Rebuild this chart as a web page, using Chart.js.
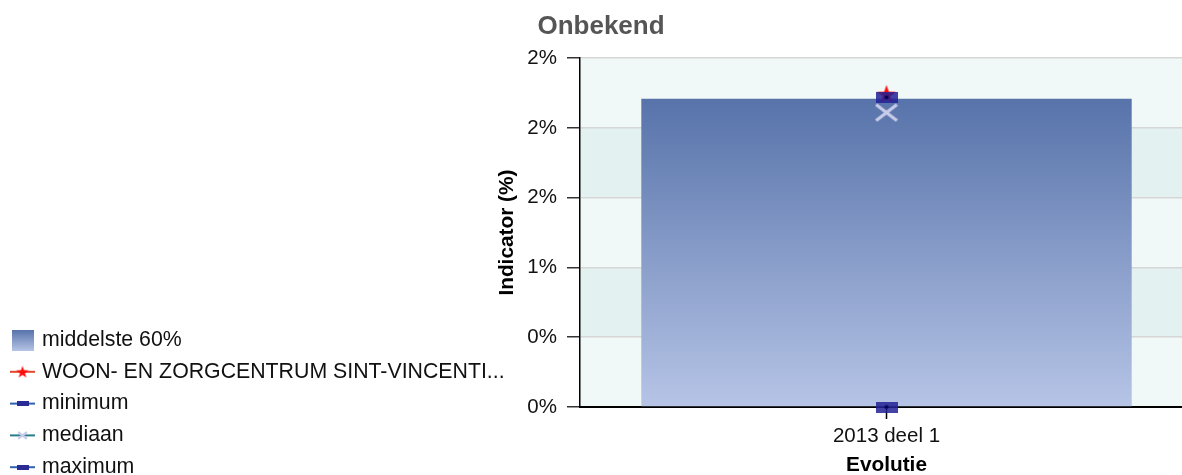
<!DOCTYPE html>
<html><head><meta charset="utf-8">
<script src="https://cdn.jsdelivr.net/npm/chart.js@4.4.1/dist/chart.umd.min.js"></script>
<style>
html,body{margin:0;padding:0;overflow:hidden;background:#fff;width:1182px;height:475px}
canvas{display:block}
</style></head>
<body><canvas id="c" width="1202" height="480"></canvas>
<script>
// ---- data ----
const categories = ['2013 deel 1'];
const middle60Low = [0];
const middle60High = [2.21];
const instelling = [2.24];
const minimum = [0];
const mediaan = [2.11];
const maximum = [2.22];
const yTickLabels = ['0%', '0%', '1%', '2%', '2%', '2%'];
const seriesLabels = ['middelste 60%', 'WOON- EN ZORGCENTRUM SINT-VINCENTI...', 'minimum', 'mediaan', 'maximum'];

const FONT = '"Liberation Sans", Arial, Helvetica, sans-serif';
Chart.defaults.font.family = FONT;

// ---- marker images ----
function makeStar(size, outer, inner, color) {
  const c = document.createElement('canvas'); c.width = c.height = size;
  const x = c.getContext('2d'); const cx = size / 2, cy = size / 2 + 0.5;
  x.beginPath();
  for (let i = 0; i < 10; i++) {
    const a = -Math.PI / 2 + i * Math.PI / 5; const r = i % 2 ? inner : outer;
    const px = cx + r * Math.cos(a), py = cy + r * Math.sin(a);
    i ? x.lineTo(px, py) : x.moveTo(px, py);
  }
  x.closePath(); x.fillStyle = color; x.fill();
  return c;
}
function makeRect(w, h, color, dotR) {
  const c = document.createElement('canvas'); c.width = w; c.height = h;
  const x = c.getContext('2d'); x.fillStyle = color; x.fillRect(0, 0, w, h);
  if (dotR) { x.beginPath(); x.arc(w / 2, h / 2, dotR, 0, Math.PI * 2); x.fillStyle = 'rgba(0,0,80,0.9)'; x.fill(); }
  return c;
}
function makeX(w, h, color, lw) {
  const c = document.createElement('canvas'); c.width = w; c.height = h;
  const x = c.getContext('2d'); x.strokeStyle = color; x.lineWidth = lw; x.lineCap = 'butt';
  const p = lw / 2;
  x.beginPath(); x.moveTo(p, p); x.lineTo(w - p, h - p); x.moveTo(w - p, p); x.lineTo(p, h - p); x.stroke();
  return c;
}
const starImg = makeStar(22, 10, 4, '#ff0a0a');
const boxImg = makeRect(22, 11, 'rgba(34,34,150,0.85)', 2);
const xImg = makeX(24, 19, '#c8cce8', 3.2);
const starLeg = makeStar(14, 6.5, 2.6, '#ff0a0a');
const boxLeg = makeRect(12, 5, '#2b2b96', 0);
const xLeg = makeX(11, 9, '#c8cce8', 2.2);

function barGradient(context) {
  const chart = context.chart; const a = chart.chartArea;
  if (!a) return '#7b90c4';
  const y = chart.scales.y;
  const top = y.getPixelForValue(Math.max(...middle60High));
  const bot = y.getPixelForValue(Math.min(...middle60Low));
  const g = chart.ctx.createLinearGradient(0, top, 0, bot);
  g.addColorStop(0, '#5773aa'); g.addColorStop(1, '#b6c4e6');
  return g;
}

const bandsPlugin = {
  id: 'bands',
  beforeDraw(chart) {
    const { ctx, chartArea: a, scales: { y } } = chart;
    ctx.save(); ctx.fillStyle = '#fff'; ctx.fillRect(0, 0, chart.width, chart.height);
    const t = y.ticks;
    for (let i = 0; i < t.length - 1; i++) {
      const top = y.getPixelForValue(t[i + 1].value), bot = y.getPixelForValue(t[i].value);
      ctx.fillStyle = i % 2 ? '#e3f2f1' : '#f0f9f8';
      ctx.fillRect(a.left, top, a.width, bot - top);
    }
    ctx.restore();
  }
};

const legendSymbols = [
  { type: 'box' },
  { type: 'line', line: '#e0472c', img: starLeg },
  { type: 'line', line: '#2f62b0', img: boxLeg },
  { type: 'line', line: '#2a7d8c', img: xLeg },
  { type: 'line', line: '#2f62b0', img: boxLeg }
];
const legendPlugin = {
  id: 'sideLegend',
  afterDraw(chart) {
    const ctx = chart.ctx; ctx.save();
    ctx.font = '21.3px ' + FONT; ctx.textBaseline = 'middle'; ctx.fillStyle = '#111';
    chart.data.datasets.forEach((ds, i) => {
      const cy = 340 + i * 31.8; const s = legendSymbols[i];
      if (s.type === 'box') {
        const g = ctx.createLinearGradient(0, cy - 10, 0, cy + 11);
        g.addColorStop(0, '#5773aa'); g.addColorStop(1, '#b6c4e6');
        ctx.fillStyle = g; ctx.fillRect(12, cy - 10, 22, 21);
      } else {
        ctx.strokeStyle = s.line; ctx.lineWidth = 2;
        ctx.beginPath(); ctx.moveTo(10, cy); ctx.lineTo(35, cy); ctx.stroke();
        ctx.drawImage(s.img, 22.5 - s.img.width / 2, cy - s.img.height / 2);
      }
      ctx.fillStyle = '#111';
      ctx.fillText(ds.label, 42, cy);
    });
    ctx.restore();
  }
};

function pointSet(label, data, img, order) {
  return { type: 'line', label, data, showLine: false, pointStyle: img, pointRadius: 8,
    pointHoverRadius: 8, clip: false, order, borderColor: 'transparent', backgroundColor: 'transparent' };
}

new Chart(document.getElementById('c'), {
  type: 'bar',
  data: {
    labels: categories,
    datasets: [
      { type: 'bar', label: seriesLabels[0], data: middle60Low.map((v, i) => [v, middle60High[i]]),
        backgroundColor: barGradient, borderWidth: 0, barPercentage: 0.8, categoryPercentage: 1, order: 10 },
      pointSet(seriesLabels[1], instelling, starImg, 5),
      pointSet(seriesLabels[2], minimum, boxImg, 3),
      pointSet(seriesLabels[3], mediaan, xImg, 2),
      pointSet(seriesLabels[4], maximum, boxImg, 1)
    ]
  },
  options: {
    responsive: false, animation: false, devicePixelRatio: 1,
    layout: { padding: { left: 8, right: 8, top: 0, bottom: 0 } },
    plugins: {
      legend: { display: false }, tooltip: { enabled: false },
      title: { display: true, text: 'Onbekend', color: '#555555',
        font: { size: 26, weight: 'bold' }, padding: { top: 11, bottom: 16 } }
    },
    scales: {
      x: {
        offset: true,
        grid: { offset: false, drawOnChartArea: false, drawTicks: true, tickLength: 12, tickColor: '#000', tickWidth: 1.5 },
        border: { color: '#000', width: 2 },
        ticks: { color: '#111', font: { size: 20.5 }, padding: 5.5 },
        title: { display: true, text: 'Evolutie', color: '#000', font: { size: 20.8, weight: 'bold' }, padding: { top: 0, bottom: 2 } },
        afterFit(s) { s.height = 73; }
      },
      y: {
        min: 0, max: 2.5,
        ticks: { stepSize: 0.5, callback: (v, i) => yTickLabels[i], padding: 10, color: '#111', font: { size: 20.5 } },
        grid: { color: '#d6d6d6', lineWidth: 1.5, tickLength: 13, tickColor: '#333', tickWidth: 1.5 },
        border: { color: '#000', width: 1.5 },
        title: { display: true, text: 'Indicator (%)', color: '#000', font: { size: 20.8, weight: 'bold' }, padding: { top: 487, bottom: 0 } },
        afterFit(s) { s.width = 572; }
      }
    }
  },
  plugins: [bandsPlugin, legendPlugin]
});
</script>
</body></html>
